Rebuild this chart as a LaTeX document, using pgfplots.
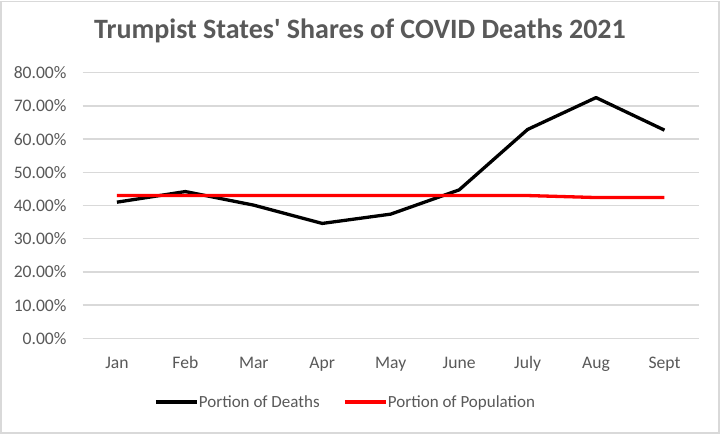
\documentclass[border=0pt]{standalone}
\usepackage{fontspec}
\setmainfont{Carlito}
\usepackage{pgfplots}
\pgfplotsset{compat=1.18}
\definecolor{textgray}{HTML}{595959}
\definecolor{gridgray}{HTML}{D9D9D9}
\begin{document}
\begin{tikzpicture}
\useasboundingbox (0,0) rectangle (722bp,434bp);
\fill[white] (0,0) rectangle (722bp,434bp);
\draw[gridgray, line width=1.5bp] (1bp,1bp) rectangle (719bp,432.5bp);
\node[anchor=base, text=textgray, font=\bfseries\fontsize{28bp}{31bp}\selectfont, inner sep=0pt] at (360bp,395bp) {Trumpist States\textquotesingle{} Shares of COVID Deaths 2021};
\begin{axis}[
  at={(82.7bp,95.7bp)}, anchor=south west,
  width=616bp, height=265.6bp, scale only axis,
  xmin=-0.5, xmax=8.5, ymin=0, ymax=80,
  axis line style={draw=none},
  major tick length=0pt,
  ymajorgrids, grid style={gridgray, line width=1.3bp},
  xtick={0,...,8},
  xticklabels={Jan,Feb,Mar,Apr,May,June,July,Aug,Sept},
  ytick={0,10,...,80},
  yticklabels={0.00\%,10.00\%,20.00\%,30.00\%,40.00\%,50.00\%,60.00\%,70.00\%,80.00\%},
  ticklabel style={text=textgray, font=\fontsize{17.6bp}{20bp}\selectfont, inner sep=0pt},
  xticklabel style={anchor=base, yshift=-30bp},
  yticklabel style={anchor=east, xshift=-16bp},
  clip=false,
  legend columns=2,
  legend style={at={(axis description cs:0.1157,-0.24)}, anchor=west, draw=none, fill=none, inner sep=0pt,
    font=\fontsize{17bp}{20bp}\selectfont, text=textgray,
    nodes={inner sep=0.5bp},
    /tikz/every even column/.append style={column sep=23bp}},
  legend image code/.code={\draw[#1] (0bp,0bp) -- (41bp,0bp);},
]
\addplot[black, line width=3.3bp, line join=round] coordinates {
 (0,41.0) (1,44.2) (2,40.1) (3,34.6) (4,37.4) (5,44.7) (6,62.9) (7,72.5) (8,62.7)};
\addlegendentry{Portion of Deaths}
\addplot[red, line width=3.3bp, line join=round] coordinates {
 (0,43.0) (1,43.0) (2,43.0) (3,43.0) (4,43.0) (5,43.0) (6,43.0) (7,42.4) (8,42.4)};
\addlegendentry{Portion of Population}
\end{axis}
\end{tikzpicture}
\end{document}
